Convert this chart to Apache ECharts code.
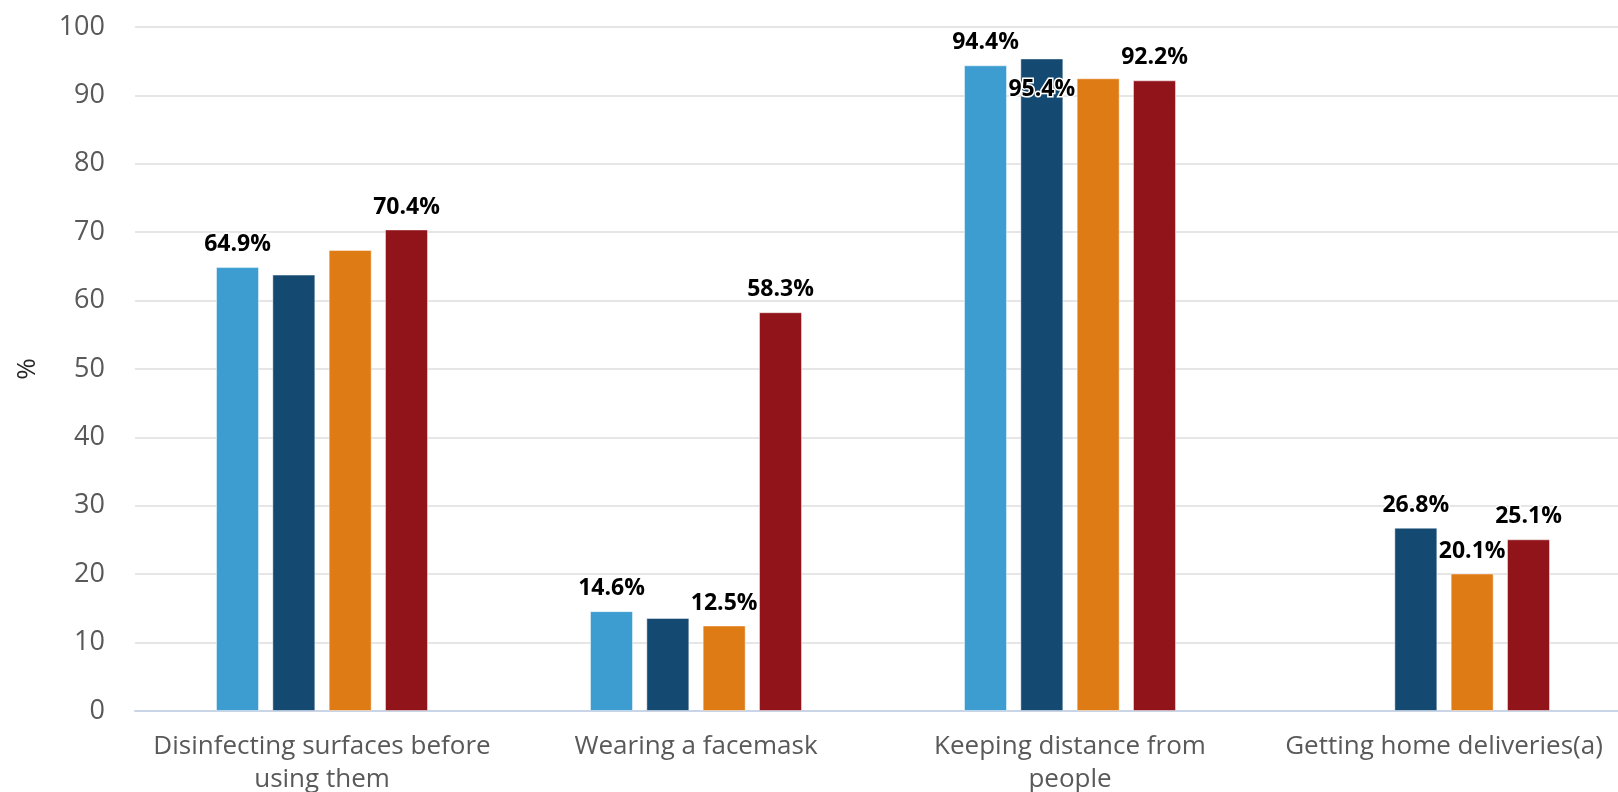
<!DOCTYPE html>
<html>
<head>
<meta charset="utf-8">
<script src="https://cdn.jsdelivr.net/npm/echarts@6/dist/echarts.min.js"></script>
<style>
html,body{margin:0;padding:0;background:#fff;}
#chart{width:1618px;height:792px;}
</style>
</head>
<body>
<div id="chart"></div>
<script>
const categories = ['Disinfecting surfaces before\nusing them', 'Wearing a facemask', 'Keeping distance from\npeople', 'Getting home deliveries(a)'];
const seriesNames = ['Series A', 'Series B', 'Series C', 'Series D'];
const seriesA = [64.9, 14.6, 94.4, null];
const seriesB = [63.8, 13.6, 95.4, 26.8];
const seriesC = [67.4, 12.5, 92.5, 20.1];
const seriesD = [70.4, 58.3, 92.2, 25.1];
const labeledA = [true, true, true, false];
const labeledB = [false, false, true, true];
const labeledC = [false, true, false, true];
const labeledD = [true, true, true, true];
const yTicks = [0, 10, 20, 30, 40, 50, 60, 70, 80, 90, 100];

const colors = ['#3d9dd1', '#144a72', '#df7b14', '#901419'];
const allValues = [seriesA, seriesB, seriesC, seriesD];
const allLabeled = [labeledA, labeledB, labeledC, labeledD];
const FONT = '"Open Sans", "Noto Sans", sans-serif';

const series = allValues.map((vals, si) => ({
  name: seriesNames[si],
  type: 'bar',
  barWidth: 43,
  barGap: '31%',
  itemStyle: { color: colors[si], borderColor: 'rgba(255,255,255,0.45)', borderWidth: 1 },
  data: vals.map((v, ci) => {
    const show = allLabeled[si][ci] && v != null;
    // the 95.4% label in the original sits inside the bar top
    const inside = si === 1 && ci === 2;
    return {
      value: v,
      label: {
        show: show,
        position: inside ? 'insideTop' : 'top',
        distance: inside ? 19 : 11,
        formatter: (p) => p.value.toFixed(1) + '%',
        color: '#000',
        fontFamily: FONT,
        fontWeight: 'bold',
        fontSize: 23,
        textBorderColor: '#fff',
        textBorderWidth: 3
      }
    };
  })
}));

const chart = echarts.init(document.getElementById('chart'), null, { renderer: 'canvas' });
chart.setOption({
  animation: false,
  backgroundColor: '#fff',
  grid: { left: 135, width: 1496, top: 27, bottom: 81, containLabel: false, outerBoundsMode: 'none' },
  xAxis: {
    type: 'category',
    data: categories,
    axisTick: { show: false },
    axisLine: { lineStyle: { color: '#c9d4e6', width: 2 } },
    axisLabel: {
      color: '#595959',
      fontFamily: FONT,
      fontSize: 26,
      lineHeight: 33,
      margin: 19,
      interval: 0
    }
  },
  yAxis: {
    type: 'value',
    min: yTicks[0],
    max: yTicks[yTicks.length - 1],
    interval: 10,
    name: '%',
    nameLocation: 'middle',
    nameGap: 94,
    nameRotate: 90,
    nameTextStyle: { color: '#262626', fontFamily: FONT, fontSize: 26 },
    axisLine: { show: false },
    axisTick: { show: false },
    axisLabel: { color: '#595959', fontFamily: FONT, fontSize: 27, margin: 30 },
    splitLine: { lineStyle: { color: '#e6e6e6', width: 2 } }
  },
  series: series
});
</script>
</body>
</html>
